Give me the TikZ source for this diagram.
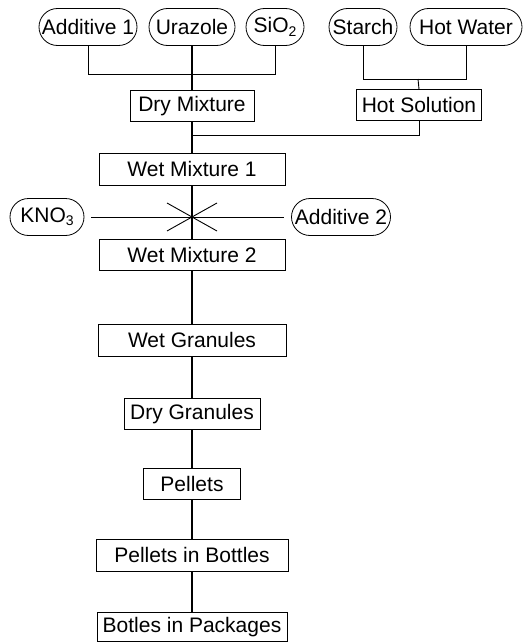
\documentclass[tikz,border=0pt]{standalone}
\usepackage{fontspec}
\setmainfont{Liberation Sans}
\usetikzlibrary{shapes.misc,calc}

\newcommand{\lowidx}[1]{\raisebox{-0.3ex}{\fontsize{14}{14}\selectfont #1}}

\tikzset{
    box/.style={draw, line width=0.7pt, minimum height=31pt, inner sep=0pt},
    pill/.style={draw, line width=0.8pt, rounded rectangle, minimum height=37pt, inner xsep=1pt, inner ysep=0pt},
    link/.style={line width=0.9pt},
    spine/.style={line width=1.3pt}
}

\begin{document}
\begin{tikzpicture}[x=1pt, y=-1pt, font=\fontsize{21}{24}\selectfont]
        \useasboundingbox (0,0) rectangle (532,642);

        % inputs
        \node[pill, minimum width=100pt] (add1) at (88,27) {Additive 1};
        \node[pill, minimum width=88pt] (uraz) at (192,27) {Urazole};
        \node[pill, minimum width=60pt] (sio) at (275,27) {SiO\lowidx{2}};
        \node[pill, minimum width=70pt] (starch) at (363,27) {Starch};
        \node[pill, minimum width=114pt] (water) at (466,27) {Hot Water};

        % mixtures
        \node[box, minimum width=124pt] (dry) at (192,106) {Dry Mixture};
        \node[box, minimum width=125pt] (hot) at (419,105) {Hot Solution};
        \node[box, minimum width=186pt, minimum height=32pt] (wet1) at (192,169) {Wet Mixture 1};
        \node[pill, minimum width=76pt] (kno) at (47,217) {KNO\lowidx{3}};
        \node[pill, minimum width=101pt] (add2) at (341,217) {Additive 2};
        \node[box, minimum width=186pt] (wet2) at (192,255) {Wet Mixture 2};

        % granules and packing
        \node[box, minimum width=188pt, minimum height=32pt] (wgran) at (192,340) {Wet Granules};
        \node[box, minimum width=136pt] (dgran) at (192,414) {Dry Granules};
        \node[box, minimum width=97pt] (pel) at (192,484) {Pellets};
        \node[box, minimum width=192pt, minimum height=32pt] (pbot) at (192,555) {Pellets in Bottles};
        \node[box, minimum width=190pt, minimum height=29pt] (bpack) at (192,627) {Botles in Packages};

        % joints
        \coordinate (j1) at (192,74);
        \coordinate (j2) at (418,79);
        \coordinate (j3) at (192,135);
        \coordinate (mix) at (192,217);

        % dry branch
        \draw[link] (add1.south) -- (add1.south |- j1) -- (sio.south |- j1) -- (sio.south);
        \draw[spine] (uraz.south) -- (dry.north);

        % hot branch
        \draw[link] (starch.south) -- (starch.south |- j2) -- (water.south |- j2) -- (water.south);
        \draw[link] (j2) -- (hot.north);
        \draw[link] (hot.south) -- (hot.south |- j3) -- (j3);
        \draw[spine] (dry.south) -- (wet1.north);

        % second mixing
        \draw[link, shorten <=7pt, shorten >=7pt] (kno.east) -- (add2.west);
        \draw[link] ($(mix)+(-25,-14)$) -- ($(mix)+(25,14)$);
        \draw[link] ($(mix)+(-25,14)$) -- ($(mix)+(25,-14)$);
        \draw[spine] (wet1.south) -- (wet2.north);

        % main line
        \draw[spine] (wet2.south) -- (wgran.north);
        \draw[spine] (wgran.south) -- (dgran.north);
        \draw[spine] (dgran.south) -- (pel.north);
        \draw[spine] (pel.south) -- (pbot.north);
        \draw[spine] (pbot.south) -- (bpack.north);
    \end{tikzpicture}
\end{document}
